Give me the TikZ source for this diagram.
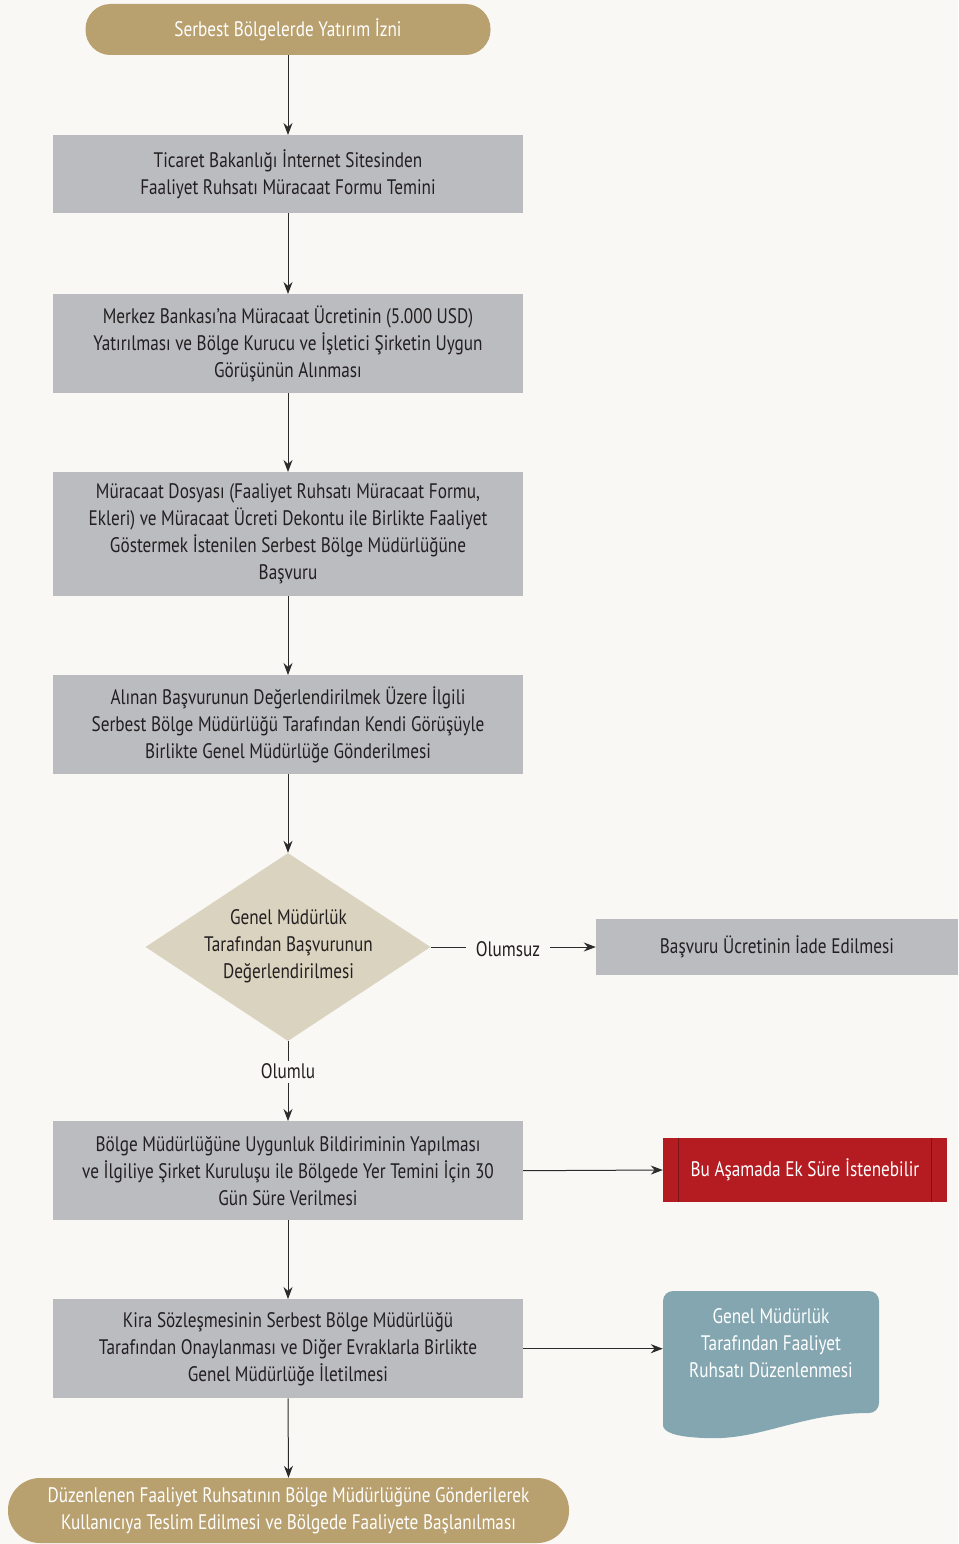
\documentclass[tikz,border=0pt]{standalone}
\usepackage{fontspec}
\setmainfont{PT Sans}[FakeStretch=0.82]
\usetikzlibrary{arrows.meta,shapes.geometric}
\definecolor{bgc}{HTML}{F9F8F4}
\definecolor{goldc}{HTML}{B9A06F}
\definecolor{grayc}{HTML}{BBBCC0}
\definecolor{beigec}{HTML}{D9D3BF}
\definecolor{redc}{HTML}{B51C22}
\definecolor{redline}{HTML}{7A1418}
\definecolor{tealc}{HTML}{84A6B0}
\definecolor{txtc}{HTML}{231F20}
\definecolor{arrc}{HTML}{2B2B2B}
\tikzset{
  txt/.style={font=\fontsize{21}{27}\selectfont, align=center, text=txtc},
  pill/.style={txt, fill=goldc, text=white, rounded corners=25pt, inner sep=0pt},
  graybox/.style={txt, fill=grayc, minimum width=470pt, inner sep=0pt, anchor=north},
  arr/.style={draw=arrc, line width=1pt, -{Stealth[length=12pt,width=9pt]}},
  ln/.style={draw=arrc, line width=1pt},
}
\begin{document}
\begin{tikzpicture}[x=1pt,y=-1pt]
\useasboundingbox[fill=bgc] (0,0) rectangle (958,1544);

% top pill
\node[pill, minimum width=405pt, minimum height=51pt] (start) at (288,29.5) {Serbest Bölgelerde Yatırım İzni};

% gray boxes
\node[graybox, minimum height=78pt] (b1) at (288,135) {Ticaret Bakanlığı İnternet Sitesinden\\Faaliyet Ruhsatı Müracaat Formu Temini};
\node[graybox, minimum height=99pt] (b2) at (288,294) {Merkez Bankası’na Müracaat Ücretinin (5.000 USD)\\Yatırılması ve Bölge Kurucu ve İşletici Şirketin Uygun\\Görüşünün Alınması};
\node[graybox, minimum height=124pt] (b3) at (288,472) {Müracaat Dosyası (Faaliyet Ruhsatı Müracaat Formu,\\Ekleri) ve Müracaat Ücreti Dekontu ile Birlikte Faaliyet\\Göstermek İstenilen Serbest Bölge Müdürlüğüne\\Başvuru};
\node[graybox, minimum height=99pt] (b4) at (288,675) {Alınan Başvurunun Değerlendirilmek Üzere İlgili\\Serbest Bölge Müdürlüğü Tarafından Kendi Görüşüyle\\Birlikte Genel Müdürlüğe Gönderilmesi};

% diamond
\node[diamond, fill=beigec, minimum width=285pt, minimum height=188pt, inner sep=0pt] (dec) at (288,947) {};
\node[txt] (dectext) at (288.5,946) {Genel Müdürlük\\Tarafından Başvurunun\\Değerlendirilmesi};

% refund box
\node[txt, fill=grayc, minimum width=362pt, minimum height=56pt, inner sep=0pt] (refund) at (777,947) {Başvuru Ücretinin İade Edilmesi};
\node[txt, inner sep=0pt] (neg) at (508,949) {Olumsuz};
\node[txt, inner sep=0pt] (pos) at (288,1071) {Olumlu};

\node[graybox, minimum height=99pt] (b5) at (288,1121) {Bölge Müdürlüğüne Uygunluk Bildiriminin Yapılması\\ve İlgiliye Şirket Kuruluşu ile Bölgede Yer Temini İçin 30\\Gün Süre Verilmesi};
\node[graybox, minimum height=99pt] (b6) at (288,1299) {Kira Sözleşmesinin Serbest Bölge Müdürlüğü\\Tarafından Onaylanması ve Diğer Evraklarla Birlikte\\Genel Müdürlüğe İletilmesi};

% red box
\node[txt, text=white, fill=redc, minimum width=284pt, minimum height=64pt, inner sep=0pt] (extra) at (805,1170) {Bu Aşamada Ek Süre İstenebilir};
\draw[redline, line width=1.2pt] ([xshift=16pt]extra.north west) -- ([xshift=16pt]extra.south west);
\draw[redline, line width=1.2pt] ([xshift=-16pt]extra.north east) -- ([xshift=-16pt]extra.south east);

% document shape
\node[minimum width=216pt, minimum height=147pt, inner sep=0pt] (doc) at (771,1364.5) {};
\fill[tealc] (663,1425) -- (663,1301) arc[start angle=180,end angle=270,radius=10] -- (869,1291)
  arc[start angle=-90,end angle=0,radius=10] -- (879,1403) arc[start angle=0,end angle=90,radius=10]
  .. controls (800,1413) and (760,1441) .. (705,1438) .. controls (675,1437) and (663,1432) .. (663,1425) -- cycle;
\node[txt, text=white] (doctext) at (771,1343) {Genel Müdürlük\\Tarafından Faaliyet\\Ruhsatı Düzenlenmesi};

% bottom pill
\node[pill, minimum width=561pt, minimum height=65pt, rounded corners=32pt] (end) at (288.5,1510.5) {Düzenlenen Faaliyet Ruhsatının Bölge Müdürlüğüne Gönderilerek\\Kullanıcıya Teslim Edilmesi ve Bölgede Faaliyete Başlanılması};

% connectors
\draw[arr] (start.south) -- (b1.north);
\draw[arr] (b1.south) -- (b2.north);
\draw[arr] (b2.south) -- (b3.north);
\draw[arr] (b3.south) -- (b4.north);
\draw[arr] (b4.south) -- (dec.north);
\draw[ln] (dec.east) -- ([xshift=-10pt]neg.west |- dec.east);
\draw[arr] ([xshift=10pt]neg.east |- refund.west) -- (refund.west);
\draw[ln] (dec.south) -- ([yshift=2pt]pos.north);
\draw[arr] ([yshift=-4pt]pos.south) -- (b5.north);
\draw[arr] (b5.east) -- (extra.west);
\draw[arr] (b5.south) -- (b6.north);
\draw[arr] (b6.east) -- (b6.east -| doc.west);
\draw[arr] (b6.south) -- (end.north);
\end{tikzpicture}
\end{document}
